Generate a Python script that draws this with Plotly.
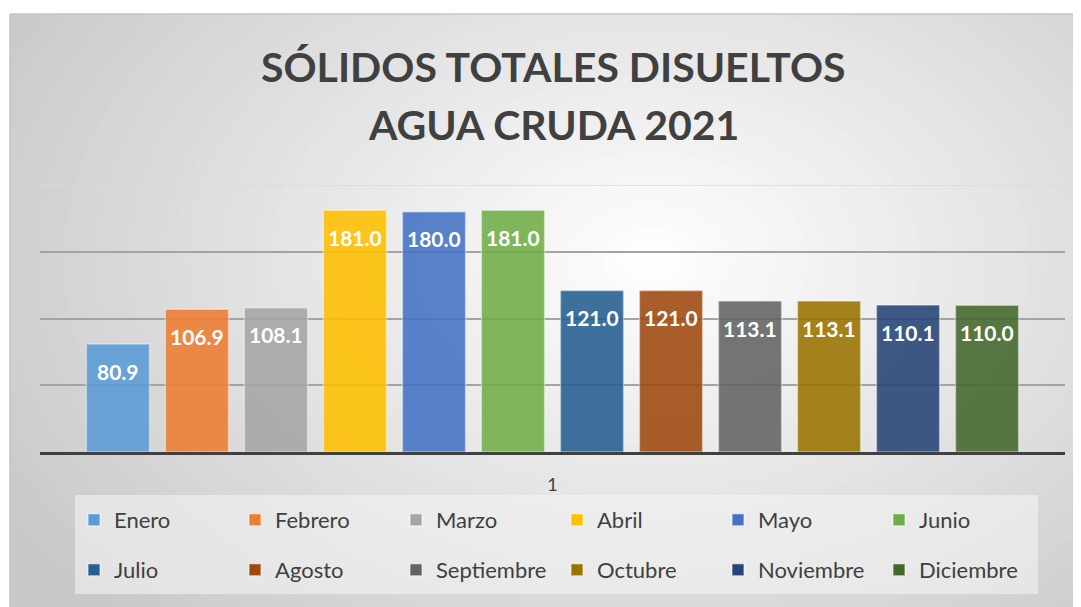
import plotly.graph_objects as go

# data
meses = ["Enero", "Febrero", "Marzo", "Abril", "Mayo", "Junio",
         "Julio", "Agosto", "Septiembre", "Octubre", "Noviembre", "Diciembre"]
valores = [80.9, 106.9, 108.1, 181.0, 180.0, 181.0,
           121.0, 121.0, 113.1, 113.1, 110.1, 110.0]
colores = ["#5B9BD5", "#ED7D31", "#A5A5A5", "#FFC000", "#4472C4", "#70AD47",
           "#255E91", "#9E480E", "#636363", "#997300", "#264478", "#43682B"]
categoria = ["1"]
titulo_1 = "SÓLIDOS TOTALES DISUELTOS"
titulo_2 = "AGUA CRUDA 2021"

# the page body has an 8px margin, so the figure is drawn 8px in
OFF = 8
W, H = 1081 - OFF, 607 - OFF
L, R, T, B = 40 - OFF, 16, 185 - OFF, 155
PW, PH = W - L - R, H - T - B
BARGAP = 0.075


def px_x(px):
    # px given in reference-picture pixels
    return (px - OFF - L) / PW


def px_y(py):
    return (H - B - (py - OFF)) / PH


FONT = "Lato, 'Open Sans', sans-serif"

fig = go.Figure()
for i, (mes, val, col) in enumerate(zip(meses, valores, colores)):
    fig.add_trace(go.Bar(
        x=categoria, y=[val], name=mes,
        marker=dict(color=col, opacity=0.88,
                    line=dict(color="rgba(255,255,255,0.45)", width=1.5)),
        legend="legend" if i < 6 else "legend2",
    ))

# data labels, placed on each bar of the group via the axis scale
slot = (1 - BARGAP) / len(meses)
annotations = []
for i, val in enumerate(valores):
    annotations.append(dict(
        x=-(1 - BARGAP) / 2 + (i + 0.5) * slot, y=val, xref="x", yref="y",
        text=f"{val:.1f}", showarrow=False, yanchor="middle", yshift=-27,
        font=dict(family=FONT, size=21, color="white", weight="bold")))

# background: radial-ish gradient built from nested ellipses
shapes = [dict(type="rect", xref="paper", yref="paper", layer="below",
               x0=px_x(-20), x1=px_x(1100), y0=px_y(630), y1=px_y(-20),
               fillcolor="rgb(200,200,200)", line=dict(width=0))]
cx, cy = 650, 260
n = 48
for k in range(n, 0, -1):
    t = k / n
    g = round(255 - (255 - 200) * t)
    rx, ry = 760 * t, 520 * t
    shapes.append(dict(type="circle", xref="paper", yref="paper", layer="below",
                       x0=px_x(cx - rx), x1=px_x(cx + rx),
                       y0=px_y(cy + ry), y1=px_y(cy - ry),
                       fillcolor=f"rgb({g},{g},{g})", line=dict(width=0)))
# white outer frame (top and left)
shapes.append(dict(type="rect", xref="paper", yref="paper", layer="below",
                   x0=px_x(-20), x1=px_x(1100), y0=px_y(14), y1=px_y(-20),
                   fillcolor="white", line=dict(width=0)))
shapes.append(dict(type="rect", xref="paper", yref="paper", layer="below",
                   x0=px_x(-20), x1=px_x(10), y0=px_y(630), y1=px_y(-20),
                   fillcolor="white", line=dict(width=0)))
shapes.append(dict(type="line", xref="paper", yref="paper", layer="below",
                   x0=px_x(10), x1=px_x(1100), y0=px_y(14), y1=px_y(14),
                   line=dict(color="#c4c4c4", width=1.5)))
shapes.append(dict(type="line", xref="paper", yref="paper", layer="below",
                   x0=px_x(10), x1=px_x(10), y0=px_y(14), y1=px_y(630),
                   line=dict(color="#c4c4c4", width=1.5)))
# legend box
shapes.append(dict(type="rect", xref="paper", yref="paper", layer="below",
                   x0=px_x(75), x1=px_x(1038), y0=px_y(594), y1=px_y(495),
                   fillcolor="rgba(244,244,244,0.6)", line=dict(width=0)))
# top gridline (lighter)
shapes.append(dict(type="line", xref="paper", yref="y", layer="below",
                   x0=0, x1=1, y0=200, y1=200,
                   line=dict(color="#dadada", width=1.5)))

annotations += [
    dict(text=titulo_1, xref="paper", yref="paper", x=px_x(553), y=px_y(66),
         xanchor="center", yanchor="middle", showarrow=False,
         font=dict(family=FONT, size=41, color="#404040", weight="bold")),
    dict(text=titulo_2, xref="paper", yref="paper", x=px_x(553), y=px_y(125),
         xanchor="center", yanchor="middle", showarrow=False,
         font=dict(family=FONT, size=41, color="#404040", weight="bold")),
]

leg = dict(orientation="h", entrywidth=116, entrywidthmode="pixels",
           bgcolor="rgba(0,0,0,0)", yanchor="middle", xanchor="left",
           font=dict(family=FONT, size=22, color="#404040"),
           traceorder="normal", itemclick=False)
fig.update_layout(
    width=W, height=H,
    margin=dict(l=L, r=R, t=T, b=B, autoexpand=False),
    paper_bgcolor="white", plot_bgcolor="rgba(0,0,0,0)",
    barmode="group", bargap=BARGAP, bargroupgap=0.2,
    showlegend=True,
    legend=dict(leg, x=px_x(74), y=px_y(520)),
    legend2=dict(leg, x=px_x(74), y=px_y(570)),
    xaxis=dict(showline=True, linecolor="#404040", linewidth=3,
               showgrid=False, ticks="", ticklabelstandoff=14,
               tickfont=dict(family=FONT, size=18, color="#404040")),
    yaxis=dict(range=[0, 200], tickvals=[50, 100, 150], showticklabels=False,
               gridcolor="#a3a3a3", gridwidth=1.5, zeroline=False),
    shapes=shapes,
    annotations=annotations,
)

fig.write_html("out.html")
